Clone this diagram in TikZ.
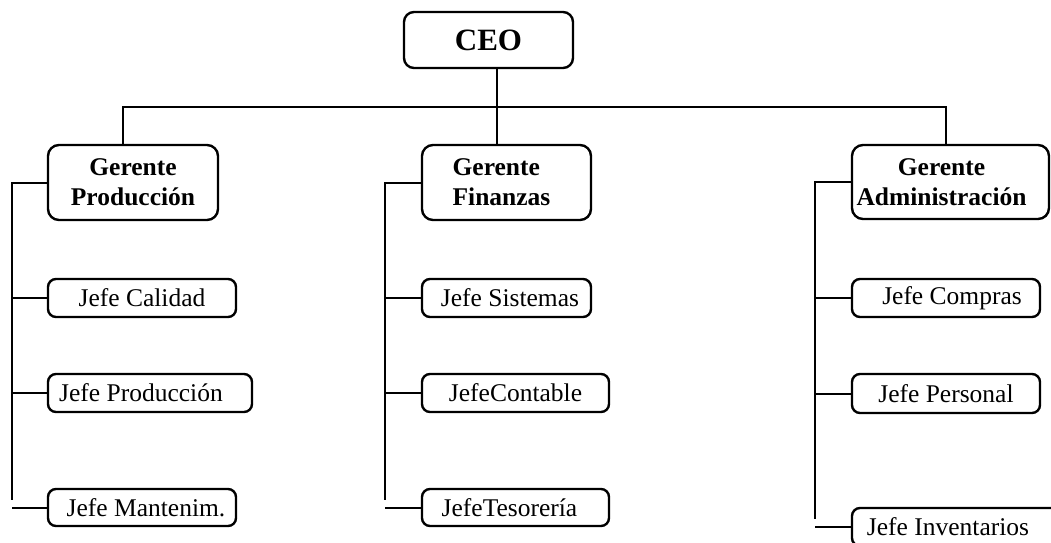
\documentclass[tikz,border=0pt]{standalone}
\usepackage{fontspec}
\setmainfont{Liberation Serif}
\begin{document}
\begin{tikzpicture}[x=1pt,y=-1pt,
  box/.style={draw, line width=2.4pt, inner sep=0pt, anchor=center},
  gbox/.style={box, font=\fontsize{25.5}{30}\selectfont\bfseries, align=center, minimum height=75pt, rounded corners=11pt},
  jbox/.style={box, font=\fontsize{25.5}{30}\selectfont, minimum height=38pt, rounded corners=8pt},
  conn/.style={line width=2pt}]
\useasboundingbox (0,0) rectangle (1051,542);
\clip (0,0) rectangle (1051,542);
% boxes
\node[box, font=\fontsize{31}{36}\selectfont\bfseries, minimum width=169pt, minimum height=56pt, rounded corners=10pt] (ceo) at (488.5,40) {CEO};
\node[gbox, minimum width=170pt] (gp) at (133,182.5) {Gerente\\Producción};
\node[gbox, minimum width=169pt, align=left] (gf) at (506.5,182.5) {Gerente\\Finanzas\hspace*{10pt}};
\node[gbox, minimum width=197pt, minimum height=74pt] (ga) at (950.5,182) {Gerente\hspace*{18pt}\\Administración\hspace*{18pt}};
\node[jbox, minimum width=188pt] (jcal) at (142,298) {Jefe Calidad};
\node[jbox, minimum width=204pt] (jpro) at (150,393) {Jefe Producción\hspace*{18pt}};
\node[jbox, minimum width=188pt, minimum height=37pt] (jman) at (142,507.5) {\hspace*{8pt}Jefe Mantenim.};
\node[jbox, minimum width=169pt] (jsis) at (506.5,298) {\hspace*{7pt}Jefe Sistemas};
\node[jbox, minimum width=187pt] (jcon) at (515.5,393) {JefeContable};
\node[jbox, minimum width=187pt, minimum height=37pt] (jtes) at (515.5,507.5) {JefeTesorería\hspace*{12pt}};
\node[jbox, minimum width=188pt] (jcom) at (946,298) {\hspace*{12pt}Jefe Compras};
\node[jbox, minimum width=188pt, minimum height=39pt] (jper) at (946,393.5) {Jefe Personal};
\node[jbox, minimum width=210pt] (jinv) at (957,527) {Jefe Inventarios\hspace*{18pt}};
% top connectors
\coordinate (busL) at (123,107);
\coordinate (busM) at (497,107);
\coordinate (busR) at (946,107);
\draw[conn] (gp.north -| busL) -- (busL) -- (busR) -- (ga.north -| busR);
\draw[conn] (ceo.south -| busM) -- (gf.north -| busM);
% side brackets
\coordinate (pEnd) at (12,500);
\coordinate (fEnd) at (385,500);
\coordinate (aEnd) at (815,519);
\draw[conn] (gp.west) -- (gp.west -| pEnd) -- (pEnd);
\draw[conn] (jcal.west) -- (jcal.west -| pEnd);
\draw[conn] (jpro.west) -- (jpro.west -| pEnd);
\draw[conn] (jman.west) -- (jman.west -| pEnd);
\draw[conn] (gf.west) -- (gf.west -| fEnd) -- (fEnd);
\draw[conn] (jsis.west) -- (jsis.west -| fEnd);
\draw[conn] (jcon.west) -- (jcon.west -| fEnd);
\draw[conn] (jtes.west) -- (jtes.west -| fEnd);
\draw[conn] (ga.west) -- (ga.west -| aEnd) -- (aEnd);
\draw[conn] (jcom.west) -- (jcom.west -| aEnd);
\draw[conn] (jper.west) -- (jper.west -| aEnd);
\draw[conn] (jinv.west) -- (jinv.west -| aEnd);
\end{tikzpicture}
\end{document}
